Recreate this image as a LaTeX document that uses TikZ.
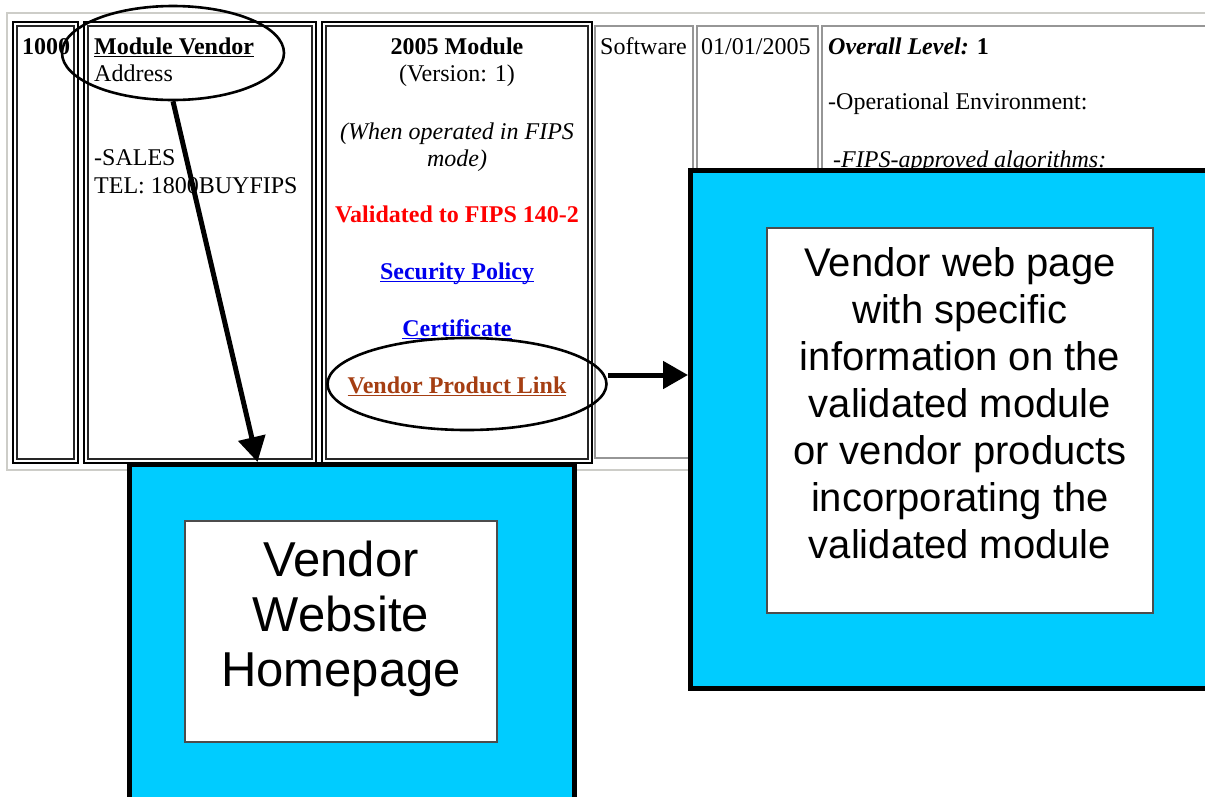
\documentclass[tikz,border=0pt]{standalone}
\usepackage{fontspec}
\setmainfont{Liberation Serif}
\newfontfamily\arialfont{Liberation Sans}
\usetikzlibrary{shapes.geometric,arrows.meta,calc}
\definecolor{boxblue}{RGB}{0,204,255}
\definecolor{linkblue}{RGB}{0,0,238}
\definecolor{linkbrown}{RGB}{165,62,18}
\definecolor{cellgray}{RGB}{150,150,150}
\definecolor{tablegray}{RGB}{205,205,200}
\newcommand\myul[1]{\setbox0\hbox{#1}\rlap{\rule[-3.2pt]{\wd0}{1.7pt}}\box0}
\begin{document}
\begin{tikzpicture}[x=1pt,y=-1pt,
  tbl/.style={font=\fontsize{24}{27}\selectfont, inner sep=0pt},
  outercell/.style={draw=black, line width=2.4pt},
  innercell/.style={draw=black!85, line width=1.3pt},
  graycell/.style={draw=cellgray, line width=1.3pt},
  bluebox/.style={draw=black, line width=5pt, fill=boxblue, inner sep=0pt, anchor=north west},
  whitebox/.style={draw=black!70, line width=1.5pt, fill=white, inner sep=0pt, outer sep=0pt, anchor=north west},
  ring/.style={ellipse, draw=black, line width=2.6pt, inner sep=0pt},
  arr/.style={draw=black, line width=5pt, -{Triangle[length=25pt,width=27pt]}}]
\useasboundingbox (0,0) rectangle (1205,796);
\clip (0,0) rectangle (1205,796);
\fill[white] (0,0) rectangle (1205,796);
% table frame
\draw[tablegray, line width=1.5pt] (7,13) rectangle (1230,470);
% cells with double borders
\draw[outercell] (13,22) rectangle (78,463);
\draw[innercell] (17,26) rectangle (74,459);
\draw[outercell] (84,22) rectangle (316,463);
\draw[innercell] (88,26) rectangle (312,459);
\draw[outercell] (322,22) rectangle (592,463);
\draw[innercell] (326,26) rectangle (588,459);
% plain cells
\draw[graycell] (595,26) rectangle (693,458);
\draw[graycell] (697,26) rectangle (818,458);
\draw[graycell] (822,26) rectangle (1230,458);
% cell texts
\node[tbl, anchor=base west] (id) at (22,54) {\textbf{1000}};
\node[tbl, anchor=base west] (vend) at (94,54) {\textbf{\myul{Module Vendor}}};
\node[tbl, anchor=base west] (addr) at (94,81) {Address};
\node[tbl, anchor=base west] (sales) at (94,165) {-SALES};
\node[tbl, anchor=base west] (tel) at (94,193) {TEL: 1800BUYFIPS};
\node[tbl, anchor=base] (mod) at (457,54) {\textbf{2005 Module}};
\node[tbl, anchor=base] (ver) at (457,81) {(Version: 1)};
\node[tbl, anchor=base] (fips1) at (457,139) {\textit{(When operated in FIPS}};
\node[tbl, anchor=base] (fips2) at (457,166) {\textit{mode)}};
\node[tbl, anchor=base] (valid) at (457,222) {\textbf{\color{red}Validated to FIPS 140-2}};
\node[tbl, anchor=base] (sp) at (457,279) {\textbf{\color{linkblue}\myul{Security Policy}}};
\node[tbl, anchor=base] (cert) at (457,336) {\textbf{\color{linkblue}\myul{Certificate}}};
\node[tbl, anchor=base] (vpl) at (457,393) {\textbf{\color{linkbrown}\myul{Vendor Product Link}}};
\node[tbl, anchor=base west] (sw) at (600,54) {Software};
\node[tbl, anchor=base west] (date) at (701,54) {01/01/2005};
\node[tbl, anchor=base west] (lvl) at (828,54) {\textbf{\textit{Overall Level:} 1}};
\node[tbl, anchor=base west] (env) at (828,109) {-Operational Environment:};
\node[tbl, anchor=base west] (alg) at (833,167) {\textit{-FIPS-approved algorithms:}};
% highlight ellipses
\node[ring, minimum width=222pt, minimum height=94pt] (e1) at (173,53) {};
\node[ring, minimum width=279pt, minimum height=92pt] (e2) at (467,384) {};
% blue boxes
\node[bluebox, minimum width=445pt, minimum height=360pt] (home) at (127,462) {};
\node[whitebox, minimum width=312pt, minimum height=221pt] (hin) at (185,521) {};
\node[font=\arialfont\fontsize{49}{55}\selectfont, align=center, inner sep=0pt] (htxt) at (341,619) {Vendor\\Website\\Homepage};
\node[bluebox, minimum width=540pt, minimum height=518pt] (prod) at (688,168) {};
\node[whitebox, minimum width=386pt, minimum height=385pt] (pin) at (767,228) {};
\node[font=\arialfont\fontsize{40}{47}\selectfont, align=center, inner sep=0pt] (ptxt) at (960,403) {Vendor web page\\with specific\\information on the\\validated module\\or vendor products\\incorporating the\\validated module};
% connectors
\coordinate (a2) at (0,375);
\draw[arr] (e1.south) -- ($(home.north west)!0.29!(home.north east)$);
\draw[arr] (e2.east |- a2) -- (prod.west |- a2);
\end{tikzpicture}
\end{document}
